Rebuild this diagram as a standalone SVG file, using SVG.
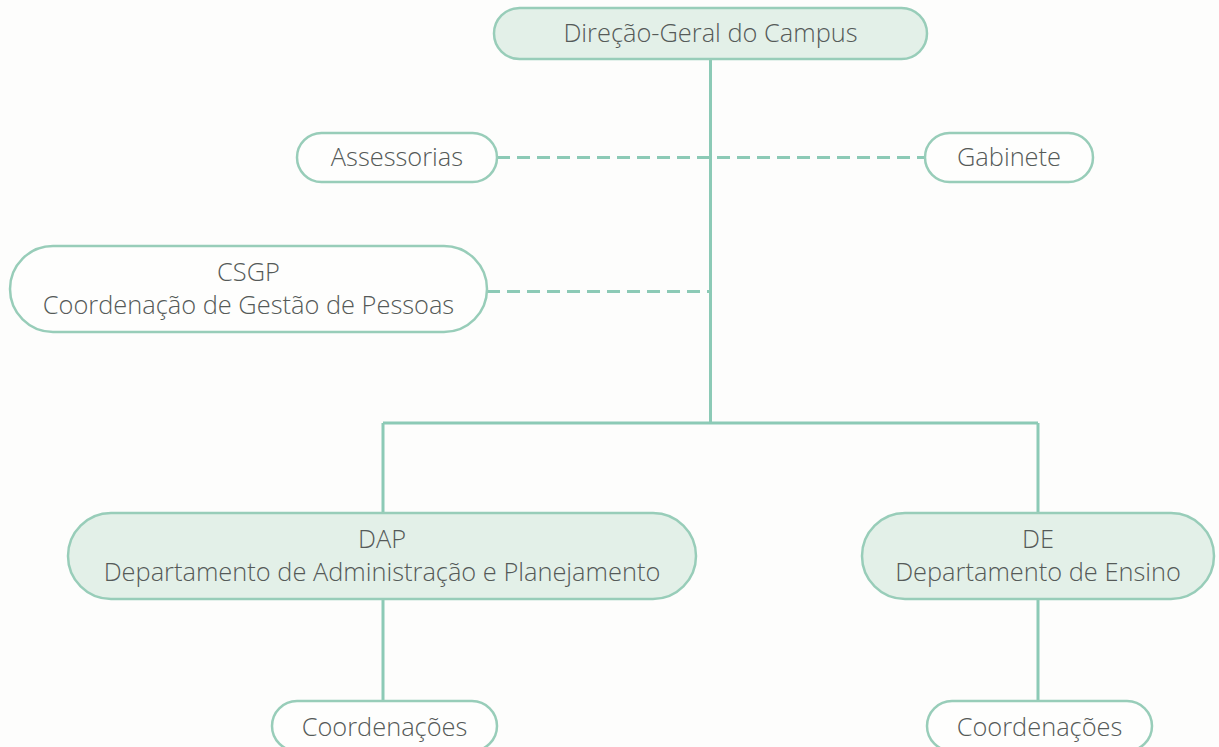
<svg xmlns="http://www.w3.org/2000/svg" width="1219" height="747" viewBox="0 0 1219 747">
<style>
.bg{fill:#fdfdfc}
.node{stroke:#98cdb9;stroke-width:2.5}
.filled{fill:#e3f0e8}
.plain{fill:#fefefd}
.lbl{font-family:"Open Sans","Liberation Sans",sans-serif;font-size:25.4px;font-weight:300;fill:#555a58;text-anchor:middle}
.solid{stroke:#8ccab6;stroke-width:3;fill:none}
.dash{stroke:#8ccab6;stroke-width:3;fill:none;stroke-dasharray:13 7}
</style>
<rect class="bg" x="0" y="0" width="1219" height="747"/>
<g id="connectors">
  <path class="solid" d="M710.5 59 V423 M383 423 H1038 M383 423 V513 M1038 423 V513 M383 599 V701 M1038 599 V701"/>
  <path class="dash" d="M497 157.5 H925"/>
  <path class="dash" d="M487 291.5 H710.5"/>
</g>
<g id="n-direcao">
  <rect class="node filled" x="494" y="8" width="433" height="51" rx="25.5"/>
  <text class="lbl" x="710.5" y="42">Direção-Geral do Campus</text>
</g>
<g id="n-assessorias">
  <rect class="node plain" x="297" y="133" width="200" height="49" rx="24.5"/>
  <text class="lbl" x="397" y="166">Assessorias</text>
</g>
<g id="n-gabinete">
  <rect class="node plain" x="925" y="133" width="168" height="49" rx="24.5"/>
  <text class="lbl" x="1009" y="166">Gabinete</text>
</g>
<g id="n-csgp">
  <rect class="node plain" x="10" y="246" width="477" height="86" rx="43"/>
  <text class="lbl" x="248.5" y="281">CSGP</text>
  <text class="lbl" x="248.5" y="314">Coordenação de Gestão de Pessoas</text>
</g>
<g id="n-dap">
  <rect class="node filled" x="68" y="513" width="628" height="86" rx="43"/>
  <text class="lbl" x="382" y="548">DAP</text>
  <text class="lbl" x="382" y="581">Departamento de Administração e Planejamento</text>
</g>
<g id="n-de">
  <rect class="node filled" x="862" y="513" width="352" height="86" rx="43"/>
  <text class="lbl" x="1038" y="548">DE</text>
  <text class="lbl" x="1038" y="581">Departamento de Ensino</text>
</g>
<g id="n-coord-dap">
  <rect class="node plain" x="272" y="701" width="225" height="50" rx="25"/>
  <text class="lbl" x="384.5" y="736">Coordenações</text>
</g>
<g id="n-coord-de">
  <rect class="node plain" x="927" y="701" width="225" height="50" rx="25"/>
  <text class="lbl" x="1039.5" y="736">Coordenações</text>
</g>
</svg>
